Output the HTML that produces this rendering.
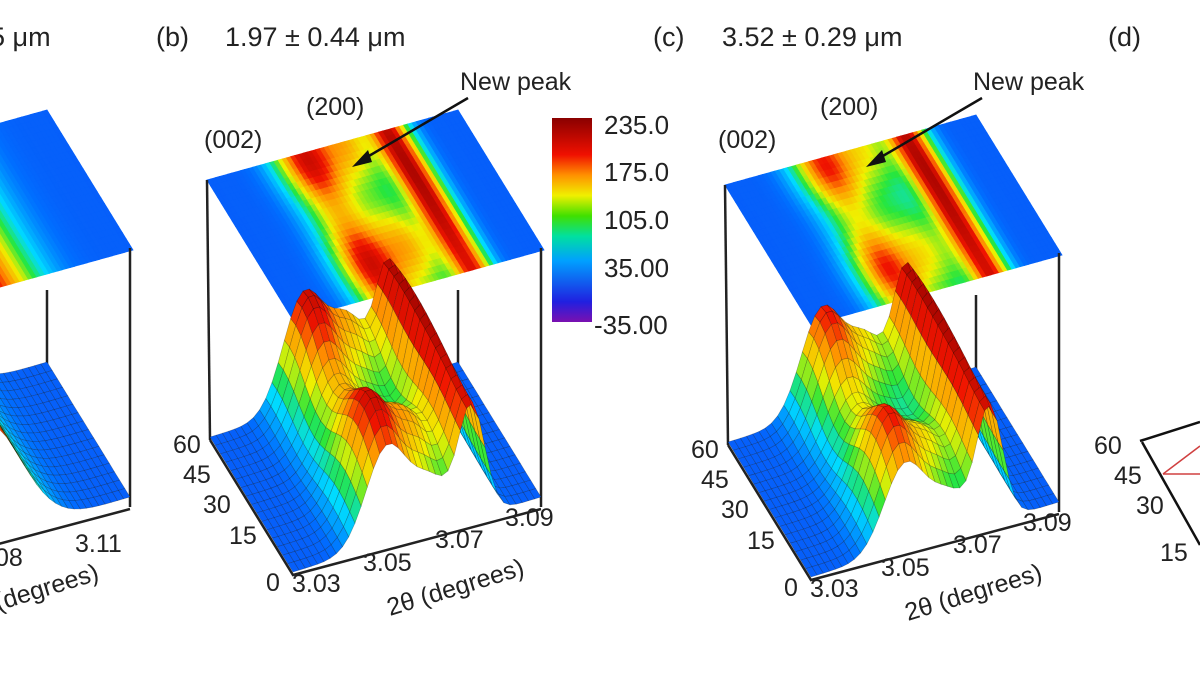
<!DOCTYPE html>
<html><head><meta charset="utf-8"><style>
html,body{margin:0;padding:0;background:#fff;}
svg{display:block;font-family:"Liberation Sans",sans-serif;}
</style></head><body>
<svg id="s" width="1200" height="680" viewBox="0 0 1200 680" xmlns="http://www.w3.org/2000/svg">
<defs>
<linearGradient id="cb" x1="0" y1="1" x2="0" y2="0">
<stop offset="0" stop-color="#7a10b0"/><stop offset="0.1" stop-color="#2020e0"/><stop offset="0.3" stop-color="#00a0ff"/><stop offset="0.42" stop-color="#00e0a0"/><stop offset="0.52" stop-color="#40e000"/><stop offset="0.62" stop-color="#f0f000"/><stop offset="0.72" stop-color="#ff9000"/><stop offset="0.82" stop-color="#f01000"/><stop offset="1" stop-color="#8a0000"/>
</linearGradient>
</defs>
<g id="plots"></g>
<g font-size="27" fill="#222">
<text x="-10" y="46">5 μm</text>
<text x="156" y="46">(b)</text><text x="225" y="46">1.97 ± 0.44 μm</text>
<text x="653" y="46">(c)</text><text x="722" y="46">3.52 ± 0.29 μm</text>
<text x="1108" y="46">(d)</text>
</g>
<g font-size="25" fill="#222">
<text x="460" y="90">New peak</text>
<text x="973" y="90">New peak</text>
<text x="204" y="148">(002)</text><text x="306" y="115">(200)</text>
<text x="718" y="148">(002)</text><text x="820" y="115">(200)</text>
</g>
<g stroke="#111" stroke-width="2.5">
<line x1="468" y1="98" x2="362" y2="160"/>
<line x1="982" y1="98" x2="876" y2="160"/>
</g>
<polygon points="352,167 368,150 372,162" fill="#111"/>
<polygon points="866,167 882,150 886,162" fill="#111"/>
<rect x="552" y="118" width="40" height="204" fill="url(#cb)"/>
<g font-size="26" fill="#222">
<text x="604" y="134">235.0</text><text x="604" y="181">175.0</text><text x="604" y="229">105.0</text><text x="604" y="277">35.00</text><text x="594" y="334">-35.00</text>
</g>
<g font-size="25" fill="#222" id="labs"></g>
<g stroke="#111" stroke-width="2.5" fill="none">
<polyline points="1140,441 1200,422"/>
<line x1="1142" y1="442" x2="1200" y2="545"/>
</g>
<g stroke="#d04040" stroke-width="1.5"><line x1="1163" y1="474" x2="1200" y2="446"/><line x1="1163" y1="474" x2="1200" y2="474"/></g>
<g font-size="25" fill="#222"><text x="1094" y="454">60</text><text x="1114" y="484">45</text><text x="1136" y="514">30</text><text x="1160" y="561">15</text></g>
</svg>
<script>
(function(){
var NS="http://www.w3.org/2000/svg",G=document.getElementById("plots"),L=document.getElementById("labs");
function jet(t){t=Math.max(0,Math.min(1,t));var st=[[0,[30,40,230]],[0.15,[0,110,255]],[0.3,[0,220,255]],[0.42,[40,230,60]],[0.55,[240,240,0]],[0.7,[255,140,0]],[0.8,[240,20,0]],[1,[140,0,0]]];
for(var i=1;i<st.length;i++){if(t<=st[i][0]){var a=st[i-1],b=st[i],f=(t-a[0])/(b[0]-a[0]);return "rgb("+[0,1,2].map(function(k){return Math.round(a[1][k]+(b[1][k]-a[1][k])*f)}).join(",")+")";}}return "rgb(140,0,0)";}
function g(x,m,s){return Math.exp(-Math.pow((x-m)/s,2));}
function el(n,a,p){var e=document.createElementNS(NS,n);for(var k in a)e.setAttribute(k,a[k]);(p||G).appendChild(e);return e;}
var HM=125;
function col(h){return jet(0.1+0.78*h/HM);}
function panel(dx,dy,H){
 var A=[207+dx,180+dy],B=[458+dx,110+dy],D=[293+dx,320+dy];
 var Ab=[210+dx,440+dy],Bb=[458+dx,365+dy],Db=[293+dx,575+dy];
 function P(O,Bv,Dv,u,v,h){return [O[0]+u*(Bv[0]-O[0])+v*(Dv[0]-O[0]),O[1]+u*(Bv[1]-O[1])+v*(Dv[1]-O[1])-h];}
 var nu=60,nv=24,u,v;
 for(v=0;v<nv;v++)for(u=0;u<nu;u++){var c0=col(H((u+.5)/nu,(v+.5)/nv));
  var p=[P(A,B,D,u/nu,v/nv,0),P(A,B,D,(u+1)/nu,v/nv,0),P(A,B,D,(u+1)/nu,(v+1)/nv,0),P(A,B,D,u/nu,(v+1)/nv,0)];
  el("polygon",{points:p.map(function(q){return q.join(",")}).join(" "),fill:c0,stroke:c0,"stroke-width":"0.8"});}
 el("line",{x1:A[0],y1:A[1],x2:Ab[0],y2:Ab[1],stroke:"#222","stroke-width":2.5});
 var C=[541+dx,248+dy],Cb=[541+dx,507+dy];
 el("line",{x1:C[0],y1:C[1],x2:Cb[0],y2:Cb[1],stroke:"#222","stroke-width":2.5});
 el("line",{x1:B[0],y1:B[1]+180,x2:Bb[0],y2:Bb[1],stroke:"#222","stroke-width":2.5});
 nu=40;nv=16;
 for(v=0;v<nv;v++)for(u=0;u<nu;u++){
  var c=[[u,v],[u+1,v],[u+1,v+1],[u,v+1]].map(function(q){var a=q[0]/nu,b=q[1]/nv;return P(Ab,Bb,Db,a,b,H(a,b));});
  el("polygon",{points:c.map(function(q){return q.map(function(z){return z.toFixed(1)}).join(",")}).join(" "),fill:col(H((u+.5)/nu,(v+.5)/nv)),stroke:"rgba(0,0,0,0.3)","stroke-width":"0.6"});}
 el("polyline",{points:[Ab,Db,[541+dx,509+dy]].map(function(q){return q.join(",")}).join(" "),fill:"none",stroke:"#222","stroke-width":2.5});
}
function Hb(u,v){return (100+18*Math.cos(v*8.5-0.5))*g(u,0.38,0.12)+(120+8*Math.sin(v*5))*g(u,0.72,0.075)+(55+15*Math.cos(v*8.5))*g(u,0.56,0.1)+3;}
function Hc(u,v){return (88+20*Math.cos(v*8.5-0.5))*g(u,0.38,0.12)+(122+6*Math.sin(v*5))*g(u,0.72,0.075)+(45+12*Math.cos(v*8.5))*g(u,0.56,0.1)+3;}
function Ha(u,v){return 115*g(u,0.42,0.2)+3;}
panel(-411,0,Ha);
panel(0,0,Hb);
panel(518,5,Hc);
function t(x,y,s,r){var e=el("text",{x:x,y:y},L);e.textContent=s;if(r)e.setAttribute("transform","rotate("+r+" "+x+" "+y+")");}
[[0,0],[518,5]].forEach(function(o){var dx=o[0],dy=o[1];
 t(173+dx,453+dy,"60");t(183+dx,483+dy,"45");t(203+dx,513+dy,"30");t(229+dx,544+dy,"15");t(266+dx,591+dy,"0");
 t(292+dx,592+dy,"3.03");t(363+dx,571+dy,"3.05");t(435+dx,548+dy,"3.07");t(505+dx,526+dy,"3.09");
 t(390+dx,616+dy,"2θ (degrees)",-17);});
t(75,552,"3.11");t(-12,566,".08");t(-22,617,"θ (degrees)",-17);
})();
</script>
</body></html>
